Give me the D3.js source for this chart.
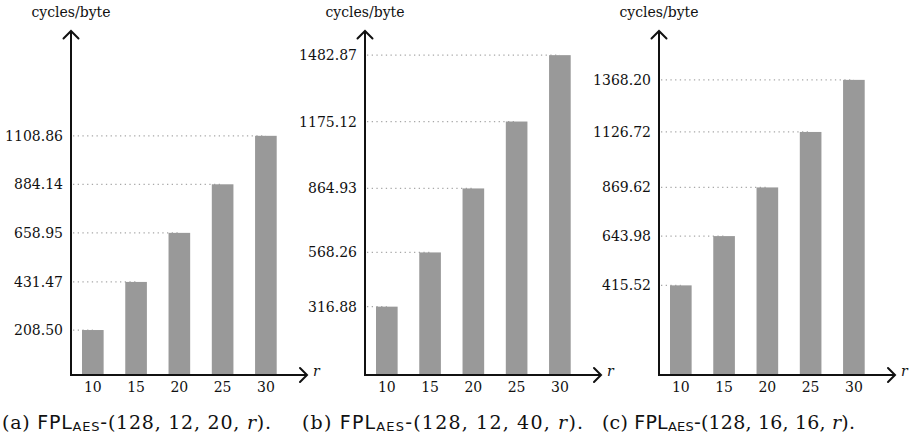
<!DOCTYPE html>
<html><head><meta charset="utf-8">
<script src="https://cdn.jsdelivr.net/npm/d3@7"></script>
<style>
html,body{margin:0;padding:0;background:#fff;}
svg{display:block;}
</style></head>
<body>
<svg id="chart" width="915" height="443"></svg>
<script>
const categories = [10, 15, 20, 25, 30];
const valuesA = [208.50, 431.47, 658.95, 884.14, 1108.86];
const valuesB = [316.88, 568.26, 864.93, 1175.12, 1482.87];
const valuesC = [415.52, 643.98, 869.62, 1126.72, 1368.20];
const captionLetters = ["a", "b", "c"];
const captionParams = ["128, 12, 20, ", "128, 12, 40, ", "128, 16, 16, "];
const yLabel = "cycles/byte";
const xLabel = "r";

const panels = [
  {values: valuesA, axisX: 71, capX: 2, capW: 269},
  {values: valuesB, axisX: 365, capX: 302, capW: 281},
  {values: valuesC, axisX: 659, capX: 602, capW: 253}
];

const svg = d3.select("#chart");
const serif = "'DejaVu Serif', serif";
const sans = "'DejaVu Sans', sans-serif";
const baseY = 375, topY = 31;
const y = d3.scaleLinear().domain([0, 1500]).range([baseY, baseY - 1500 * 0.2157]);

panels.forEach((p, i) => {
  const g = svg.append("g");
  const ax = p.axisX;
  const x = d3.scaleBand().domain(categories).range([ax + 11, ax + 205.7]).paddingInner(0.5).paddingOuter(0);

  // dotted guide lines
  g.selectAll("line.guide").data(p.values).join("line")
    .attr("x1", ax + 2).attr("x2", (d, j) => x(categories[j]) + x.bandwidth() / 2)
    .attr("y1", d => y(d)).attr("y2", d => y(d))
    .attr("stroke", "#a8a8a8").attr("stroke-width", 1.3)
    .attr("stroke-dasharray", "1.3,3.4");

  // bars
  g.selectAll("rect.bar").data(p.values).join("rect")
    .attr("x", (d, j) => x(categories[j]))
    .attr("width", x.bandwidth())
    .attr("y", d => y(d))
    .attr("height", d => baseY - y(d))
    .attr("fill", "#999999");

  // y tick labels
  const yAxis = d3.axisLeft(y).tickValues(p.values).tickFormat(d3.format(".2f")).tickSize(0).tickPadding(8);
  const ya = g.append("g").attr("transform", `translate(${ax},0)`).call(yAxis);
  ya.select(".domain").remove();
  ya.selectAll("text").attr("font-family", serif).attr("font-size", 14).attr("fill", "#111");

  // x tick labels
  const xAxis = d3.axisBottom(x).tickSize(0).tickPadding(7);
  const xa = g.append("g").attr("transform", `translate(0,${baseY})`).call(xAxis);
  xa.select(".domain").remove();
  xa.selectAll("text").attr("font-family", serif).attr("font-size", 14).attr("fill", "#111");

  // axes lines
  g.append("line").attr("x1", ax).attr("x2", ax).attr("y1", baseY + 1).attr("y2", topY + 1)
    .attr("stroke", "#111").attr("stroke-width", 2);
  g.append("line").attr("x1", ax - 1).attr("x2", ax + 235).attr("y1", baseY).attr("y2", baseY)
    .attr("stroke", "#111").attr("stroke-width", 2);
  // arrowheads
  g.append("path")
    .attr("d", `M${ax - 7.5},${topY + 7.5} Q${ax - 2},${topY + 2} ${ax},${topY} Q${ax + 2},${topY + 2} ${ax + 7.5},${topY + 7.5}`)
    .attr("fill", "none").attr("stroke", "#111").attr("stroke-width", 2).attr("stroke-linecap", "round");
  const tx = ax + 236;
  g.append("path")
    .attr("d", `M${tx - 7},${baseY - 7} Q${tx - 2},${baseY - 2} ${tx},${baseY} Q${tx - 2},${baseY + 2} ${tx - 7},${baseY + 7}`)
    .attr("fill", "none").attr("stroke", "#111").attr("stroke-width", 2).attr("stroke-linecap", "round");

  // axis labels
  g.append("text").attr("x", ax).attr("y", 17).attr("text-anchor", "middle")
    .attr("font-family", serif).attr("font-size", 14).attr("fill", "#111").text(yLabel);
  g.append("text").attr("x", tx + 6).attr("y", baseY + 1).attr("font-family", serif)
    .attr("font-style", "italic").attr("font-size", 14).attr("fill", "#111").text(xLabel);

  // caption
  const cap = g.append("text").attr("x", p.capX).attr("y", 429).attr("font-size", 19).attr("fill", "#111");
  cap.append("tspan").attr("font-family", serif).text(`(${captionLetters[i]}) `);
  cap.append("tspan").attr("font-family", sans).text("FPL");
  cap.append("tspan").attr("font-family", sans).attr("font-size", 13).attr("dy", 2).text("AES");
  cap.append("tspan").attr("font-family", sans).attr("dy", -2).text("-");
  cap.append("tspan").attr("font-family", serif).text("(" + captionParams[i]);
  cap.append("tspan").attr("font-family", serif).attr("font-style", "italic").text("r");
  cap.append("tspan").attr("font-family", serif).text(").");
  // fit caption width to the reference by adjusting letter spacing
  const w = cap.node().getBBox().width;
  const n = cap.text().length;
  const ls = Math.max(-0.5, Math.min(1.5, (p.capW - w) / (n - 1)));
  cap.attr("letter-spacing", ls);
});
</script>
</body></html>
